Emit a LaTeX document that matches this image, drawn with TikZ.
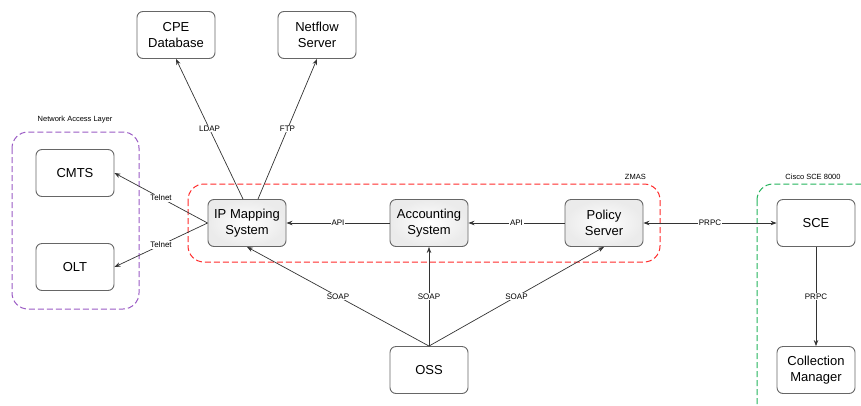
\documentclass[tikz,border=0pt]{standalone}
\usepackage{fontspec}
\setmainfont{Liberation Sans}
\usetikzlibrary{arrows.meta}

\definecolor{boxline}{HTML}{666666}
\definecolor{nalpurple}{HTML}{9A5BC4}
\definecolor{zmasred}{HTML}{FF2A2A}
\definecolor{scegreen}{HTML}{22B35A}

\tikzset{
    box/.style={draw=boxline, line width=0.9pt, rounded corners=6pt, fill=white,
        minimum width=78pt, minimum height=47pt, align=center,
        font=\fontsize{13}{15.5}\selectfont},
    shadedbox/.style={box, inner color=white, outer color=gray!16},
    group/.style={line width=1pt, rounded corners=16pt, dash pattern=on 6pt off 3pt},
    grouplabel/.style={font=\fontsize{7.5}{9}\selectfont, inner sep=0pt},
    link/.style={draw=black!80, line width=0.7pt, -{Stealth[length=6pt,width=4.5pt]}},
    lbl/.style={fill=white, inner sep=0.6pt, font=\fontsize{8}{9}\selectfont}
}

\begin{document}
\begin{tikzpicture}[x=1pt, y=-1pt]
    \clip (0,0) rectangle (861,405);

    % groups
    \draw [group, nalpurple] (12,132) rectangle (139,309);
    \draw [group, zmasred] (188,184) rectangle (660,262);
    \draw [group, scegreen] (757,184) rectangle (900,440);
    \node [grouplabel] (nal) at (75,120) {Network Access Layer};
    \node [grouplabel, anchor=east] (zmas) at (646,177) {ZMAS};
    \node [grouplabel] (cisco) at (813,177) {Cisco SCE 8000};

    % boxes
    \node [box] (cpe) at (176,35) {CPE\\Database};
    \node [box] (netflow) at (317,35) {Netflow\\Server};
    \node [box] (cmts) at (75,173) {CMTS};
    \node [box] (olt) at (75,267) {OLT};
    \node [shadedbox] (ipm) at (247,223) {IP Mapping\\System};
    \node [shadedbox] (acct) at (429,223) {Accounting\\System};
    \node [shadedbox] (policy) at (604,223) {Policy\\Server};
    \node [box] (sce) at (816,223) {SCE};
    \node [box] (cm) at (816,370) {Collection\\Manager};
    \node [box] (oss) at (429,370) {OSS};

    % connectors
    \draw [link] ([xshift=-4pt]ipm.north) -- node [lbl] {LDAP} (cpe.south);
    \draw [link] ([xshift=11pt]ipm.north) -- node [lbl] {FTP} (netflow.south);
    \draw [link] (ipm.west) -- node [lbl] {Telnet} (cmts.east);
    \draw [link] (ipm.west) -- node [lbl] {Telnet} (olt.east);
    \draw [link] (acct) -- node [lbl] {API} (ipm);
    \draw [link] (policy) -- node [lbl] {API} (acct);
    \draw [link, {Stealth[length=6pt,width=4.5pt]}-{Stealth[length=6pt,width=4.5pt]}] (policy) -- node [lbl] {PRPC} (sce);
    \draw [link] (sce) -- node [lbl] {PRPC} (cm);
    \foreach \t in {ipm,acct,policy}
        {\draw [link] (oss.north) -- node [lbl] {SOAP} (\t.south);}
\end{tikzpicture}
\end{document}
